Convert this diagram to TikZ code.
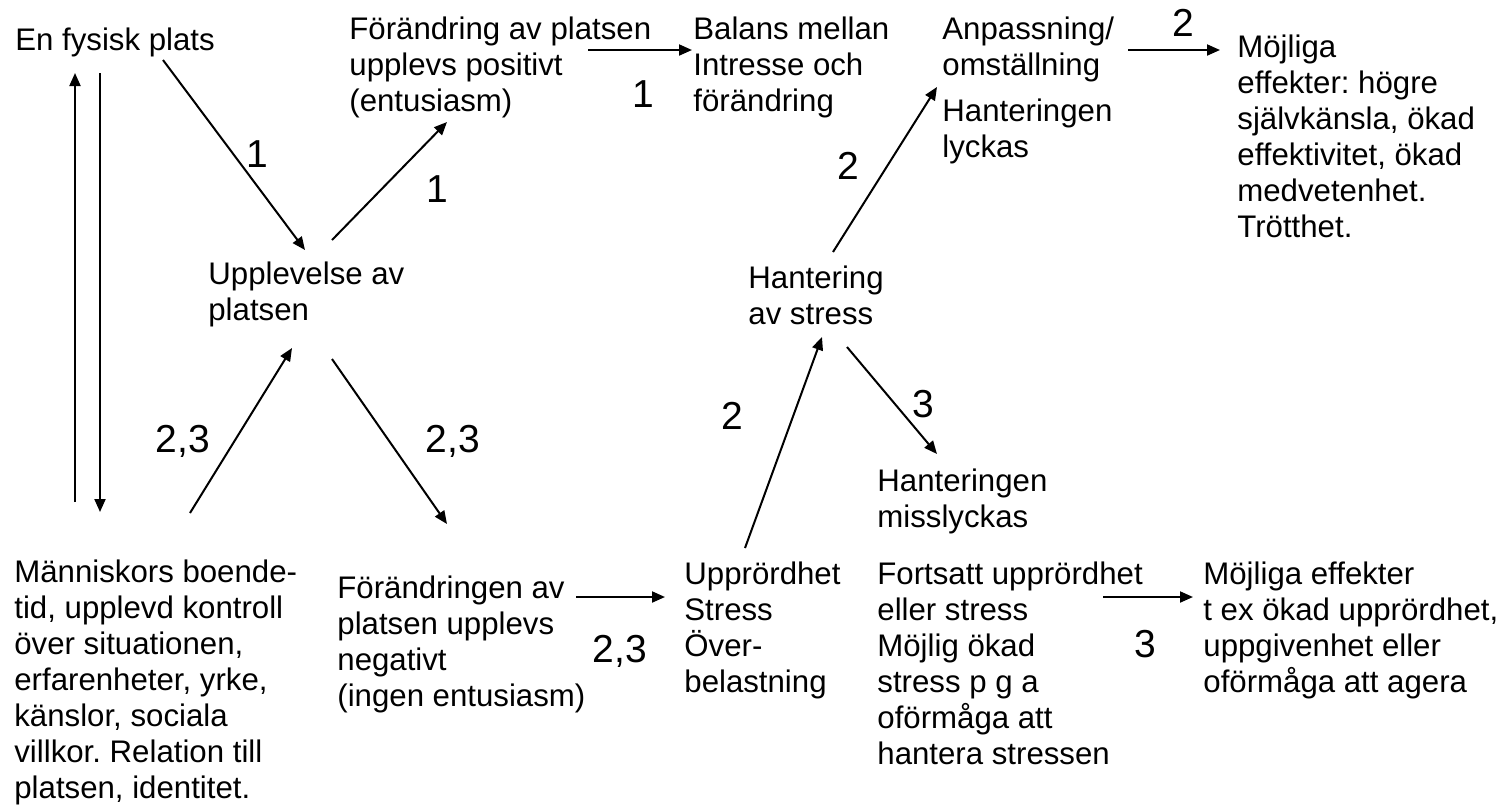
\documentclass[tikz,border=0pt]{standalone}
\usepackage{fontspec}
\setmainfont{Liberation Sans}
\usepackage{tikz}
\usetikzlibrary{arrows.meta,calc}
\frenchspacing

\tikzset{
  txt/.style={anchor=north west,inner sep=0pt,align=left,font=\fontsize{15.6}{18}\selectfont},
  nr/.style={anchor=base,inner sep=0pt,font=\fontsize{19.5}{22}\selectfont},
  pil/.style={line width=1pt,-{Triangle[length=6.5pt,width=5.5pt]}}
}

\begin{document}
\begin{tikzpicture}[x=0.5pt,y=-0.5pt]
\useasboundingbox (0,0) rectangle (1506,805);
% texter
\node[txt] (fysisk) at (15,27.6) {En fysisk plats};
\node[txt] (positiv) at (349,16.6) {Förändring av platsen\\upplevs positivt\\(entusiasm)};
\node[txt] (balans) at (693,16.6) {Balans mellan\\Intresse och\\förändring};
\node[txt] (anpass) at (942,16.6) {Anpassning/\\omställning};
\node[txt] (lyckas) at (942,98.6) {Hanteringen\\lyckas};
\node[txt] (effpos) at (1237,34.6) {Möjliga\\effekter: högre\\självkänsla, ökad\\effektivitet, ökad\\medvetenhet.\\Trötthet.};
\node[txt] (upplev) at (208,261.6) {Upplevelse av\\platsen};
\node[txt] (hantering) at (748,265.6) {Hantering\\av stress};
\node[txt] (misslyckas) at (877,468.6) {Hanteringen\\misslyckas};
\node[txt] (manniskor) at (14,559.6) {Människors boende-\\tid, upplevd kontroll\\över situationen,\\erfarenheter, yrke,\\känslor, sociala\\villkor. Relation till\\platsen, identitet.};
\node[txt] (negativ) at (337,575.6) {Förändringen av\\platsen upplevs\\negativt\\(ingen entusiasm)};
\node[txt] (stress) at (684,561.6) {Upprördhet\\Stress\\Över-\\belastning};
\node[txt] (fortsatt) at (877,561.6) {Fortsatt upprördhet\\eller stress\\Möjlig ökad\\stress p g a\\oförmåga att\\hantera stressen};
\node[txt] (effneg) at (1203,561.6) {Möjliga effekter\\t ex ökad upprördhet,\\uppgivenhet eller\\oförmåga att agera};
% pilar
\draw[pil] ($(fysisk.north west)+(148,32.4)$) -- ($(upplev.north west)+(97,-11.6)$);
\draw[pil] ($(upplev.north west)+(124,-21.6)$) -- ($(positiv.north west)+(98,105.4)$);
\draw[pil] ($(positiv.north west)+(239,33.4)$) -- ($(balans.north west)+(-1,33.4)$);
\draw[pil] ($(hantering.north west)+(85,-13.6)$) -- ($(anpass.north west)+(-5,70.4)$);
\draw[pil] ($(anpass.north west)+(186,33.4)$) -- ($(effpos.north west)+(-17,15.4)$);
\draw[pil] ($(manniskor.north west)+(61,-57.6)$) -- ($(fysisk.north west)+(60,45.4)$);
\draw[pil] ($(fysisk.north west)+(85,45.4)$) -- ($(manniskor.north west)+(86,-47.6)$);
\draw[pil] ($(manniskor.north west)+(176,-46.6)$) -- ($(upplev.north west)+(84,86.4)$);
\draw[pil] ($(upplev.north west)+(124,97.4)$) -- ($(negativ.north west)+(110,-51.6)$);
\draw[pil] ($(negativ.north west)+(239,21.4)$) -- ($(stress.north west)+(-19,35.4)$);
\draw[pil] ($(stress.north west)+(61,-13.6)$) -- ($(hantering.north west)+(74,71.4)$);
\draw[pil] ($(hantering.north west)+(99,81.4)$) -- ($(misslyckas.north west)+(60,-14.6)$);
\draw[pil] ($(fortsatt.north west)+(226,35.4)$) -- ($(effneg.north west)+(-10,35.4)$);
% siffror
\node[nr] (n1a) at (257,167) {1};
\node[nr] (n1b) at (437,202) {1};
\node[nr] (n1c) at (643,107) {1};
\node[nr] (n2a) at (848,179) {2};
\node[nr] (n2b) at (1183,36) {2};
\node[nr] (n23a) at (183,452) {2,3};
\node[nr] (n23b) at (453,452) {2,3};
\node[nr] (n23c) at (620,662) {2,3};
\node[nr] (n2c) at (732,429) {2};
\node[nr] (n3a) at (923,417) {3};
\node[nr] (n3b) at (1145,657) {3};
\end{tikzpicture}
\end{document}
